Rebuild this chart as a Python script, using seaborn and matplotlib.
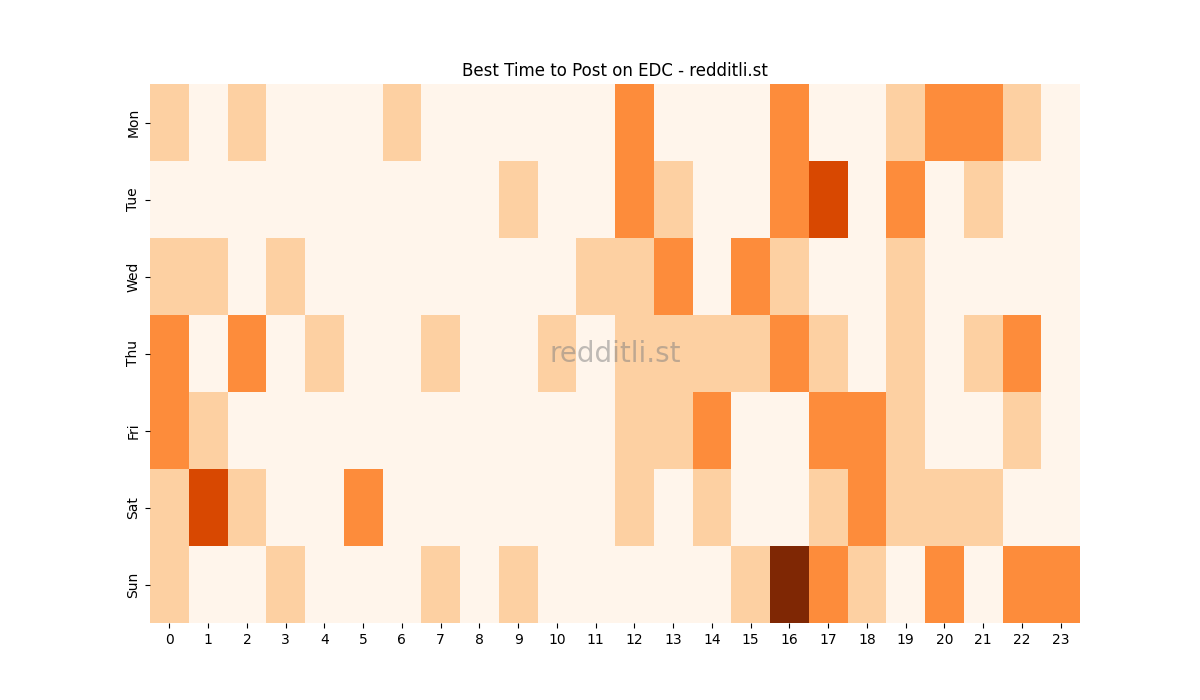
import matplotlib
matplotlib.use("Agg")
import matplotlib.pyplot as plt
import seaborn as sns
import pandas as pd

days = ["Mon", "Tue", "Wed", "Thu", "Fri", "Sat", "Sun"]
hours = list(range(24))
mon = [1,0,1,0,0,0,1,0,0,0,0,0,2,0,0,0,2,0,0,1,2,2,1,0]
tue = [0,0,0,0,0,0,0,0,0,1,0,0,2,1,0,0,2,3,0,2,0,1,0,0]
wed = [1,1,0,1,0,0,0,0,0,0,0,1,1,2,0,2,1,0,0,1,0,0,0,0]
thu = [2,0,2,0,1,0,0,1,0,0,1,0,1,1,1,1,2,1,0,1,0,1,2,0]
fri = [2,1,0,0,0,0,0,0,0,0,0,0,1,1,2,0,0,2,2,1,0,0,1,0]
sat = [1,3,1,0,0,2,0,0,0,0,0,0,1,0,1,0,0,1,2,1,1,1,0,0]
sun = [1,0,0,1,0,0,0,1,0,1,0,0,0,0,0,1,4,2,1,0,2,0,2,2]

df = pd.DataFrame([mon, tue, wed, thu, fri, sat, sun], index=days, columns=hours)

fig, ax = plt.subplots(figsize=(12, 7), dpi=100)
sns.heatmap(df, cmap="Oranges", vmin=0, vmax=4, cbar=False, ax=ax)
ax.set_title("Best Time to Post on EDC - redditli.st")
ax.text(0.5, 0.5, "redditli.st", transform=ax.transAxes, ha="center", va="center",
        fontsize=20, color="gray", alpha=0.5)
fig.savefig("out.png")
